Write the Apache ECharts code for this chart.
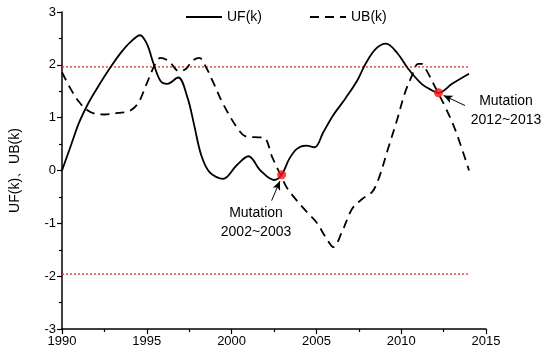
<!DOCTYPE html>
<html><head><meta charset="utf-8">
<script src="https://cdn.jsdelivr.net/npm/echarts@6/dist/echarts.min.js"></script>
<style>html,body{margin:0;padding:0;background:#fff}#c{width:550px;height:355px}</style>
</head><body><div id="c"></div>
<script>
var ufYears = [1990,1990.5,1991,1991.5,1992,1992.5,1993,1993.5,1994,1994.6,1995,1995.4,1995.8,1996.2,1996.85,1997.4,1997.8,1998.2,1998.7,1999.5,2000.3,2001,2001.7,2002.5,2002.95,2003.4,2003.85,2004.4,2004.9,2005.4,2006,2006.7,2007.4,2007.9,2008.5,2009.1,2009.8,2010.4,2011.2,2011.8,2012.2,2013,2014];
var ufValues = [0,0.45,0.9,1.24,1.52,1.78,2.02,2.24,2.42,2.56,2.40,2.02,1.70,1.64,1.76,1.38,0.85,0.30,-0.03,-0.16,0.10,0.27,0.0,-0.18,-0.08,0.22,0.41,0.47,0.44,0.72,1.05,1.36,1.70,2.02,2.30,2.40,2.21,1.93,1.64,1.52,1.47,1.64,1.83];
var ubYears = [1990,1990.5,1991,1991.5,1992,1992.5,1993.3,1994,1994.5,1995,1995.5,1995.8,1996.3,1996.9,1997.3,1997.7,1998.1,1998.5,1998.9,1999.5,2000.3,2000.8,2001.3,2001.9,2002.4,2002.85,2003.25,2003.85,2004.45,2005,2005.6,2006,2006.5,2007.1,2007.7,2008.3,2008.7,2009.25,2009.75,2010.2,2010.6,2011,2011.2,2011.5,2012,2012.6,2013.2,2014];
var ubValues = [1.86,1.55,1.30,1.14,1.07,1.06,1.09,1.13,1.28,1.65,2.02,2.13,2.07,1.88,1.92,2.08,2.13,1.95,1.68,1.26,0.82,0.65,0.63,0.62,0.25,-0.06,-0.32,-0.57,-0.79,-0.98,-1.29,-1.45,-1.17,-0.73,-0.54,-0.40,-0.13,0.44,0.95,1.45,1.77,2.02,2.02,1.89,1.58,1.20,0.76,0.0];
var critical = 1.96;
var critStart = 1990, critEnd = 2014;
var mutationPoints = [[2002.95,-0.08],[2012.2,1.47]];
var mutationLabels = ['Mutation\n2002~2003','Mutation\n2012~2013'];
var labelAnchors = [[2001.44,-0.63],[2016.18,1.5]];
var xTicks = [1990,1995,2000,2005,2010,2015];
var yTicks = [-3,-2,-1,0,1,2,3];

function zip(a,b){return a.map(function(x,i){return [x,b[i]];});}
var chart = echarts.init(document.getElementById('c'));
var font = 'Liberation Sans, Arial, sans-serif';
chart.setOption({
  animation:false,
  textStyle:{fontFamily:font,color:'#000'},
  grid:{left:62,right:64,top:12,bottom:26},
  legend:{data:['UF(k)','UB(k)'],left:180,top:5,itemWidth:36,itemHeight:12,itemGap:47,
    itemStyle:{opacity:0},
    textStyle:{fontSize:14,color:'#000',fontFamily:font}},
  xAxis:{type:'value',min:1990,max:2015,interval:5,
    axisLine:{onZero:false,lineStyle:{color:'#000',width:1.5}},
    axisTick:{lineStyle:{color:'#000',width:1.2},length:5},
    minorTick:{show:true,splitNumber:2,length:3,lineStyle:{color:'#000',width:1.2}},
    splitLine:{show:false},
    axisLabel:{fontSize:13,color:'#000',fontFamily:font,margin:6,formatter:function(v){return String(v);}}},
  yAxis:{type:'value',min:-3,max:3,interval:1,name:'UF(k)、UB(k)',nameLocation:'middle',nameGap:40,
    nameTextStyle:{fontSize:14,color:'#000',fontFamily:font},
    axisLine:{show:true,onZero:false,lineStyle:{color:'#000',width:1.5}},
    axisTick:{show:true,lineStyle:{color:'#000',width:1.2},length:5},
    minorTick:{show:true,splitNumber:2,length:3,lineStyle:{color:'#000',width:1.2}},
    splitLine:{show:false},
    axisLabel:{fontSize:13,color:'#000',fontFamily:font,margin:6}},
  series:[
    {name:'crit+',type:'line',data:[[critStart,critical],[critEnd,critical]],symbol:'none',silent:true,
      lineStyle:{color:'#e02020',width:1.2,type:[2,2]},z:1},
    {name:'crit-',type:'line',data:[[critStart,-critical],[critEnd,-critical]],symbol:'none',silent:true,
      lineStyle:{color:'#e02020',width:1.2,type:[2,2]},z:1},
    {name:'UF(k)',type:'line',data:zip(ufYears,ufValues),symbol:'none',smooth:0.35,
      itemStyle:{color:'#000'},lineStyle:{color:'#000',width:1.8},z:3,
      markLine:{silent:true,symbol:['none','arrow'],symbolSize:[6,9],
        lineStyle:{color:'#000',width:1,type:'solid'},label:{show:false},
        data:[[{coord:[2002.36,-0.57]},{coord:[2002.85,-0.2]}],
              [{coord:[2013.76,1.23]},{coord:[2012.5,1.42]}]]}},
    {name:'UB(k)',type:'line',data:zip(ubYears,ubValues),symbol:'none',smooth:0.35,
      itemStyle:{color:'#000'},lineStyle:{color:'#000',width:1.8,type:[9,6]},z:2},
    {name:'mut',type:'scatter',data:mutationPoints,symbolSize:9,itemStyle:{color:'#ff1010'},z:5}
  ]
});
var g = labelAnchors.map(function(a,i){
  var p = chart.convertToPixel({gridIndex:0}, a);
  return {type:'text',x:p[0],y:p[1],z:10,
    style:{text:mutationLabels[i],fill:'#000',font:'14px '+font,align:'center',verticalAlign:'top',lineHeight:19}};
});
chart.setOption({graphic:g});
</script></body></html>
